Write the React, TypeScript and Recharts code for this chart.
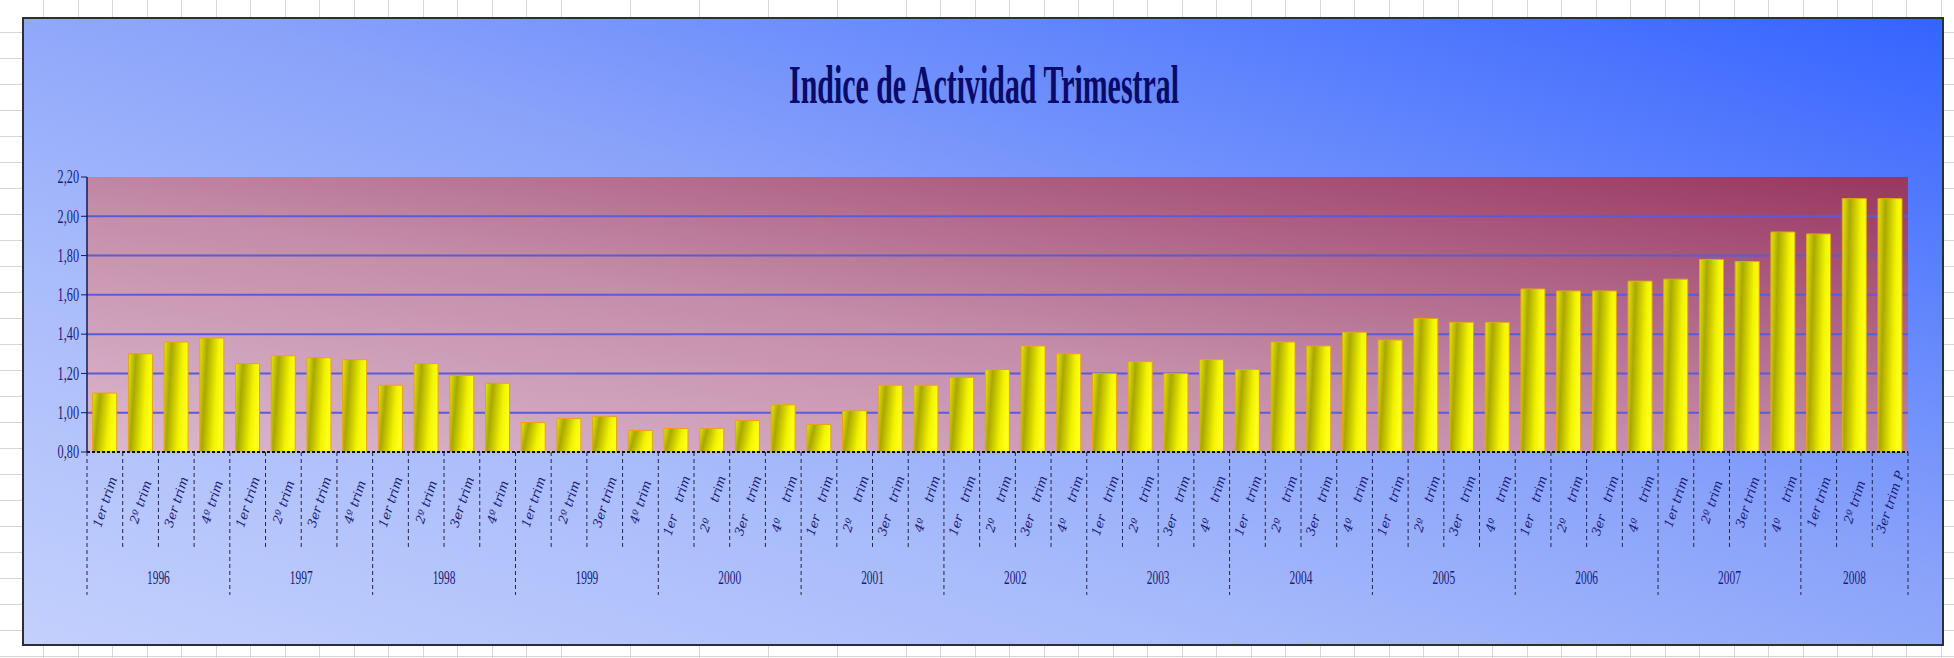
import React from 'react';
import { BarChart, Bar, XAxis, YAxis, CartesianGrid } from 'recharts';

const years = ['1996', '1997', '1998', '1999', '2000', '2001', '2002', '2003', '2004', '2005', '2006', '2007', '2008'];

// etiquetas de cada trimestre ("\n" = la etiqueta sale partida en dos trozos)
const quarterLabels = [
  '1er trim', '2º trim', '3er trim', '4º trim',
  '1er trim', '2º trim', '3er trim', '4º trim',
  '1er trim', '2º trim', '3er trim', '4º trim',
  '1er trim', '2º trim', '3er trim', '4º trim',
  '1er\ntrim', '2º\ntrim', '3er\ntrim', '4º\ntrim',
  '1er\ntrim', '2º\ntrim', '3er\ntrim', '4º\ntrim',
  '1er\ntrim', '2º\ntrim', '3er\ntrim', '4º\ntrim',
  '1er\ntrim', '2º\ntrim', '3er\ntrim', '4º\ntrim',
  '1er\ntrim', '2º\ntrim', '3er\ntrim', '4º\ntrim',
  '1er\ntrim', '2º\ntrim', '3er\ntrim', '4º\ntrim',
  '1er\ntrim', '2º\ntrim', '3er\ntrim', '4º\ntrim',
  '1er trim', '2º trim', '3er trim', '4º\ntrim',
  '1er trim', '2º trim', '3er trim P',
];

const activityIndex = [
  1.10, 1.30, 1.36, 1.38,
  1.25, 1.29, 1.28, 1.27,
  1.14, 1.25, 1.19, 1.15,
  0.95, 0.97, 0.98, 0.91,
  0.92, 0.92, 0.96, 1.04,
  0.94, 1.01, 1.14, 1.14,
  1.18, 1.22, 1.34, 1.30,
  1.20, 1.26, 1.20, 1.27,
  1.22, 1.36, 1.34, 1.41,
  1.37, 1.48, 1.46, 1.46,
  1.63, 1.62, 1.62, 1.67,
  1.68, 1.78, 1.77, 1.92,
  1.91, 2.09, 2.09,
];

const yTicks = [0.8, 1.0, 1.2, 1.4, 1.6, 1.8, 2.0, 2.2];
const gridValues = [1.0, 1.2, 1.4, 1.6, 1.8, 2.0];

const W = 1954;
const H = 658;
const margin = { top: 177, right: 46, bottom: 0, left: 22 };
const Y_AXIS_W = 65;
const X_AXIS_H = 206;

const rows = activityIndex.map((value, i) => ({
  id: `${years[Math.floor(i / 4)]}-${i % 4}`,
  label: quarterLabels[i],
  year: years[Math.floor(i / 4)],
  value,
}));

const bandFallback = (W - margin.left - Y_AXIS_W - margin.right) / rows.length;
const navy = '#1b1b78';

const QuarterTick = (props: any) => {
  const { x, y, payload } = props;
  const i: number = payload.index ?? props.index;
  const row = rows[i];
  if (!row) return null;
  const half: number = payload.offset || bandFallback / 2;
  const groupStart = rows.findIndex(r => r.year === row.year);
  const groupSize = rows.filter(r => r.year === row.year).length;
  const first = i === groupStart;
  const last = i === rows.length - 1;
  const parts = row.label.split('\n');

  return (
    <g>
      <line x1={x - half} x2={x - half} y1={y} y2={y + (first ? 143 : 96)} stroke="#25254a" strokeDasharray="4 3" />
      {last && (
        <line x1={x + half} x2={x + half} y1={y} y2={y + 143} stroke="#25254a" strokeDasharray="4 3" />
      )}
      <g transform={`translate(${x},${y + (parts.length > 1 ? 55 : 50)}) rotate(-72)`}>
        {parts.length > 1 ? (
          <>
            <text x={-19} dy="0.35em" textAnchor="middle" fontFamily="'DejaVu Serif', serif" fontStyle="italic" fontSize={12.5} fill={navy}>{parts[0]}</text>
            <text x={19} dy="0.35em" textAnchor="middle" fontFamily="'DejaVu Serif', serif" fontStyle="italic" fontSize={12.5} fill={navy}>{parts[1]}</text>
          </>
        ) : (
          <text dy="0.35em" textAnchor="middle" fontFamily="'DejaVu Serif', serif" fontStyle="italic" fontSize={12.5} fill={navy}>{parts[0]}</text>
        )}
      </g>
      {first && (
        <text
          transform={`translate(${x - half + groupSize * half},${y + 125}) scale(0.6,1)`}
          dy="0.35em"
          textAnchor="middle"
          fontFamily="'Liberation Serif', serif"
          fontSize={19}
          fill={navy}
        >
          {row.year}
        </text>
      )}
    </g>
  );
};

const ValueTick = (props: any) => {
  const { x, y, payload } = props;
  return (
    <text
      transform={`translate(${x},${y}) scale(0.68,1)`}
      dy="0.35em"
      textAnchor="end"
      fontFamily="'Liberation Serif', serif"
      fontSize={18}
      fill={navy}
    >
      {Number(payload.value).toFixed(2).replace('.', ',')}
    </text>
  );
};

export default function App() {
  return (
    <div
      style={{
        position: 'absolute',
        left: 0,
        top: 0,
        width: W,
        height: H,
        background: '#fff',
        backgroundImage:
          'repeating-linear-gradient(to right, transparent 0 33.5px, #d6d6d6 33.5px 34.5px), repeating-linear-gradient(to bottom, transparent 0 25px, #d6d6d6 25px 26px)',
        backgroundPosition: '10px 7px',
        overflow: 'hidden',
      }}
    >
      <div
        style={{
          position: 'absolute',
          left: 22,
          top: 17,
          width: 1922,
          height: 629,
          boxSizing: 'border-box',
          border: '2px solid #2e2e3a',
          background: 'linear-gradient(to top right, #c3d0fd 0%, #a9bcfb 30%, #8aa3fa 55%, #5a80fd 80%, #3563ff 100%)',
        }}
      />
      <svg width={W} height={H} style={{ position: 'absolute', left: 0, top: 0 }}>
        <text
          x={984}
          y={103}
          textAnchor="middle"
          textLength={390}
          lengthAdjust="spacingAndGlyphs"
          fontFamily="'Liberation Serif', serif"
          fontWeight="bold"
          fontSize={54}
          fill="#0a0a6a"
        >
          Indice de Actividad Trimestral
        </text>
      </svg>
      <div style={{ position: 'absolute', left: 0, top: 0 }}>
        <BarChart width={W} height={H} data={rows} margin={margin} barCategoryGap="16%">
          <defs>
            <linearGradient id="plotBg" x1="0" y1="1" x2="1" y2="0">
              <stop offset="0%" stopColor="#dbb7cd" />
              <stop offset="45%" stopColor="#c48da8" />
              <stop offset="100%" stopColor="#98365f" />
            </linearGradient>
            <linearGradient id="barFill" x1="0" y1="0" x2="1" y2="0.25">
              <stop offset="0%" stopColor="#e6e600" />
              <stop offset="30%" stopColor="#a9a800" />
              <stop offset="75%" stopColor="#f2f200" />
              <stop offset="100%" stopColor="#ffff1a" />
            </linearGradient>
          </defs>
          <CartesianGrid
            vertical={false}
            horizontalValues={gridValues}
            stroke="#5b5bd8"
            strokeWidth={2}
            fill="url(#plotBg)"
            fillOpacity={1}
          />
          <XAxis
            dataKey="id"
            interval={0}
            height={X_AXIS_H}
            tickLine={false}
            tickSize={0}
            tickMargin={0}
            axisLine={{ stroke: '#111', strokeWidth: 2, strokeDasharray: '3 2' }}
            tick={(p: any) => <QuarterTick {...p} />}
          />
          <YAxis
            width={Y_AXIS_W}
            domain={[0.8, 2.2]}
            ticks={yTicks}
            interval={0}
            allowDataOverflow
            axisLine={{ stroke: '#1a1a50', strokeWidth: 1.5 }}
            tickLine={{ stroke: '#1a1a50' }}
            tickSize={6}
            tickMargin={2}
            tick={(p: any) => <ValueTick {...p} />}
          />
          <Bar dataKey="value" fill="url(#barFill)" stroke="#e8a218" strokeWidth={1} isAnimationActive={false} />
        </BarChart>
      </div>
    </div>
  );
}
